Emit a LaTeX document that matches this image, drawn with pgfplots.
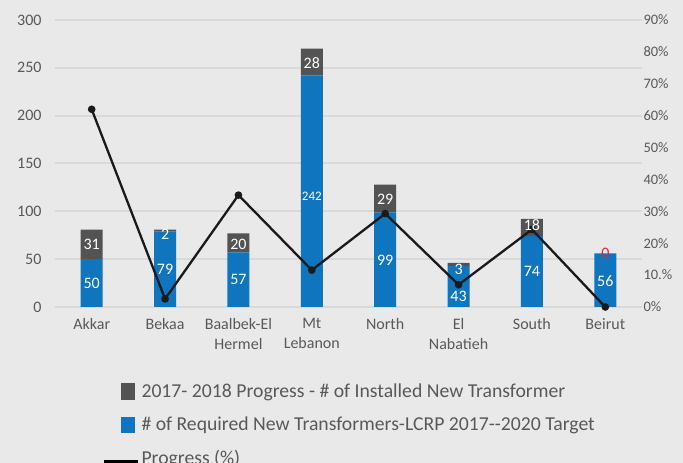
\documentclass[border=0pt]{standalone}
\usepackage{pgfplots}
\pgfplotsset{compat=1.18}
\usepackage{fontspec}
\setmainfont{Carlito}
\definecolor{bg}{RGB}{232,233,232}
\definecolor{gridc}{RGB}{216,217,216}
\definecolor{barblue}{RGB}{14,117,190}
\definecolor{bargrey}{RGB}{83,83,83}
\definecolor{txt}{RGB}{89,89,89}
\definecolor{zred}{RGB}{232,32,64}
\pgfplotsset{
  common/.style={
    at={(55pt,156pt)}, anchor=south west,
    scale only axis, width=587pt, height=287pt,
    xmin=-0.5, xmax=7.5,
  }
}
\begin{document}
\begin{tikzpicture}
\useasboundingbox (0pt,0pt) rectangle (683pt,463pt);
\fill[bg] (0pt,0pt) rectangle (683pt,463pt);
% bars
\begin{axis}[common,
  ybar stacked, bar width=22pt,
  ymin=0, ymax=300,
  xtick={0,...,7},
  xticklabels={Akkar,Bekaa,{Baalbek-El\\Hermel},{Mt\\Lebanon},North,{El\\Nabatieh},South,Beirut},
  xticklabel style={align=center, font=\fontsize{16}{20}\selectfont, text=txt, yshift=-8pt},
  ytick={0,50,...,300},
  /pgf/number format/assume math mode=true,
  yticklabel style={font=\fontsize{16}{18}\selectfont, text=txt, xshift=-10pt},
  axis line style={draw=none},
  major tick length=0pt,
  ymajorgrids, grid style={gridc, line width=2pt},
]
\addplot[fill=barblue, draw=none] coordinates {(0,50) (1,79) (2,57) (3,242) (4,99) (5,43) (6,74) (7,56)};
\addplot[fill=bargrey, draw=none] coordinates {(0,31) (1,2) (2,20) (3,28) (4,29) (5,3) (6,18) (7,0)};
\end{axis}
% line on secondary axis
\begin{axis}[common, ymin=0, ymax=0.9,
  axis x line=none, axis y line*=right, axis line style={draw=none},
  ytick={0,0.1,0.2,0.3,0.4,0.5,0.6,0.7,0.8,0.9},
  yticklabels={0\%,10.\%,20\%,30\%,40\%,50\%,60\%,70\%,80\%,90\%},
  yticklabel style={font=\fontsize{14.5}{18}\selectfont, text=txt, xshift=-2pt},
  major tick length=0pt,
  legend cell align=left,
  legend style={at={(0.0818,-0.261)}, anchor=north west, draw=none, fill=none,
    font=\fontsize{19.7}{22}\selectfont, text=txt, row sep=14pt, inner sep=0pt},
]
\addlegendimage{legend image code/.code={\path[draw=none,fill=none] (0pt,0pt) rectangle (34pt,1pt); \fill[bargrey,draw=none] (17pt,-8.5pt) rectangle (31pt,8.5pt);}}
\addlegendentry{2017- 2018 Progress - \# of Installed New Transformer}
\addlegendimage{legend image code/.code={\path[draw=none,fill=none] (0pt,0pt) rectangle (34pt,1pt); \fill[barblue,draw=none] (17pt,-8pt) rectangle (31pt,8pt);}}
\addlegendentry{\# of Required New Transformers-LCRP 2017-{}-2020 Target}
\addplot[color={rgb,255:red,26;green,26;blue,26}, line width=2.3pt, mark=*, mark size=2.6pt,
  legend image code/.code={\draw[black, line width=2.3pt] (0pt,-3pt) -- (34pt,-3pt);}]
  coordinates {(0,0.62) (1,0.0253) (2,0.3509) (3,0.1157) (4,0.2929) (5,0.0698) (6,0.2432) (7,0)};
\addlegendentry{Progress (\%)}
\end{axis}
% data labels
\begin{axis}[common, ymin=0, ymax=300, hide axis,
  nodes near coords, point meta=explicit symbolic,
  every node near coord/.append style={anchor=center, text=white, inner sep=0pt, font=\fontsize{16}{16}\selectfont},
]
\addplot[draw=none, mark=none] coordinates {(0,25)[50] (1,39.5)[79] (2,28.5)[57] (4,49)[99] (5,11)[43] (6,37)[74] (7,27)[56] (0,65)[31] (1,76)[2] (2,65.5)[20] (3,255)[28] (4,113)[29] (5,39)[3] (6,85.5)[18]};
\addplot[draw=none, mark=none, every node near coord/.append style={font=\fontsize{13}{13}\selectfont}] coordinates {(3,116)[242]};
\addplot[draw=none, mark=none, every node near coord/.append style={text=zred}] coordinates {(7,56)[0]};
\end{axis}
\end{tikzpicture}
\end{document}
